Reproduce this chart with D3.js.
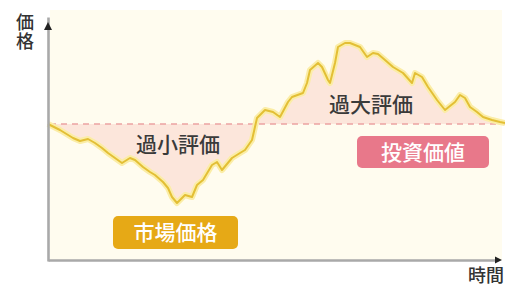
<!DOCTYPE html>
<html><head><meta charset="utf-8">
<script src="https://cdn.jsdelivr.net/npm/d3@7"></script>
<style>
html,body{margin:0;padding:0;background:#fff;}
svg{display:block;font-family:"Noto Sans CJK JP","Noto Sans",sans-serif;}
</style></head>
<body>
<svg id="c" width="505" height="289"></svg>
<script>
// time positions (arbitrary units) and market price values
const timeValues = [0,2,12,25,32,40,47,54,60,67,74,82,87,95,102,107,115,120,124,129,137,144,149,155,164,169,174,184,192,197,204,209,217,225,232,240,244,255,259,262,270,274,280,282,287,290,297,302,312,319,325,330,337,345,355,364,367,374,380,389,397,407,412,417,422,429,435,444,452,457];
const marketPrice = [137,136,131,123,120,122,118,113,108,103,98,103,101,94,89,86,79,73,64,58,66,64,76,81,96,99,91,103,108,111,121,143,151,149,144,159,164,168,178,191,198,194,181,178,198,214,218,218,214,204,208,207,201,194,188,178,188,184,174,161,151,159,166,163,154,149,144,141,139,138];
const intrinsicValue = 137;
const yAxisLabel = "価格";
const xAxisLabel = "時間";
const underLabel = "過小評価";
const overLabel = "過大評価";
const legendItems = ["市場価格","投資価値"];

const svg = d3.select("#c");
const x = d3.scaleLinear().domain([0,457]).range([48,505]);
const y = d3.scaleLinear().domain([0,250]).range([261,11]);

// cream plot background
svg.append("rect").attr("x",x(2)).attr("y",y(251)).attr("width",x(454)-x(2)).attr("height",y(1)-y(251)).attr("fill","#fffcef");

const data = timeValues.map((t,i)=>({t, v:marketPrice[i]}));

// fill between price and intrinsic value
const area = d3.area().x(d=>x(d.t)).y0(y(intrinsicValue)).y1(d=>y(d.v));
svg.append("path").datum(data).attr("d",area).attr("fill","#fce3d8").attr("opacity",0.9);

// dashed intrinsic value line
svg.append("line").attr("x1",x(2)).attr("x2",x(457)).attr("y1",y(intrinsicValue)).attr("y2",y(intrinsicValue))
  .attr("stroke","#eba3a3").attr("stroke-width",1.6).attr("stroke-dasharray","6,5");

// price line with glow
const line = d3.line().x(d=>x(d.t)).y(d=>y(d.v));
svg.append("path").datum(data).attr("d",line).attr("fill","none").attr("stroke","#fbeda6").attr("stroke-width",6).attr("stroke-linejoin","round");
svg.append("path").datum(data).attr("d",line).attr("fill","none").attr("stroke","#e3bf35").attr("stroke-width",2).attr("stroke-linejoin","round");

// axes
const xAxis = d3.axisBottom(x).tickValues([]).tickSizeOuter(0);
const yAxis = d3.axisLeft(y).tickValues([]).tickSizeOuter(0);
svg.append("g").attr("transform",`translate(0,${y(1)})`).call(xAxis.scale(x.copy().range([48,497])));
svg.append("g").attr("transform",`translate(${x(0)},0)`).call(yAxis.scale(y.copy().range([261,17])));
svg.selectAll(".domain").attr("stroke","#a9a9a9").attr("stroke-width",2.6);
// arrowheads
svg.append("path").attr("d",`M${x(0)-4},${y(231)} L${x(0)},${y(239)} L${x(0)+4},${y(231)} Z`).attr("fill","#222");
svg.append("path").attr("d",`M495,${y(1)-3.5} L502,${y(1)} L495,${y(1)+3.5} Z`).attr("fill","#222");

// axis labels
svg.append("text").attr("x",25).attr("y",13).attr("writing-mode","vertical-rl")
  .attr("font-size",18).attr("font-weight",500).attr("letter-spacing",1).attr("fill","#333").text(yAxisLabel);
svg.append("text").attr("x",504).attr("y",282).attr("text-anchor","end")
  .attr("font-size",18).attr("font-weight",500).attr("fill","#333").text(xAxisLabel);

// region labels
svg.append("text").attr("x",178).attr("y",152).attr("text-anchor","middle")
  .attr("font-size",21).attr("font-weight",500).attr("fill","#3a3a3a").text(underLabel);
svg.append("text").attr("x",371).attr("y",112).attr("text-anchor","middle")
  .attr("font-size",21).attr("font-weight",500).attr("fill","#3a3a3a").text(overLabel);

// labelled boxes
const boxes = [
  {label:legendItems[0], x0:113, x1:238, y0:216, y1:249, fill:"#e6a916"},
  {label:legendItems[1], x0:357, x1:489, y0:136, y1:168, fill:"#e8788a"}
];
boxes.forEach(b=>{
  svg.append("rect").attr("x",b.x0).attr("y",b.y0).attr("width",b.x1-b.x0).attr("height",b.y1-b.y0)
    .attr("rx",5).attr("fill",b.fill);
  svg.append("text").attr("x",(b.x0+b.x1)/2).attr("y",(b.y0+b.y1)/2+7.5).attr("text-anchor","middle")
    .attr("font-size",21).attr("font-weight",500).attr("fill","#fff").text(b.label);
});
</script>
</body></html>
